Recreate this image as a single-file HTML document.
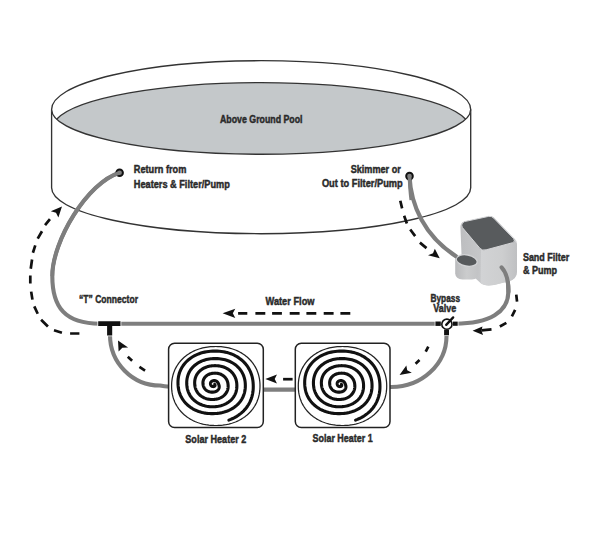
<!DOCTYPE html>
<html><head><meta charset="utf-8"><style>
html,body{margin:0;padding:0;background:#fff;width:600px;height:558px;overflow:hidden;}
svg{display:block;}
</style></head><body>
<svg width="600" height="558" viewBox="0 0 600 558">
<rect width="600" height="558" fill="#fff"/>
<path d="M51.6,109.5 L51.6,187.85 A209.27,45.79 0 0 0 470.7,187.85 L470.7,109.5" fill="#fff" stroke="#333" stroke-width="1.35"/>
<path d="M51.6,109.5 A209.55,48.8 0 0 1 470.7,109.5 A209.55,44.74 0 0 1 51.6,109.5 Z" fill="#fff"/>
<path d="M56.62,119.23 A208.9,45.95 0 0 1 465.68,119.23 A209.55,44.74 0 0 1 56.62,119.23 Z" fill="#c4c8ca"/>
<path d="M51.6,109.5 A209.55,48.8 0 0 1 470.7,109.5 A209.55,44.74 0 0 1 51.6,109.5 Z" fill="none" stroke="#333" stroke-width="1.35"/>
<path d="M56.62,119.23 A208.9,45.95 0 0 1 465.68,119.23" fill="none" stroke="#333" stroke-width="1.35"/>
<path d="M119.6,172.7 C87.3,182.5 52.3,241.1 52.3,276 C52.3,307.6 65.2,323.7 100,323.7" fill="none" stroke="#7e7e7e" stroke-width="4.1"/>
<path d="M100,323.7 L440,323.7" fill="none" stroke="#7e7e7e" stroke-width="4.1"/>
<path d="M110,333 L110,335 A50,50.5 0 0 0 160,385.5 C163,386.2 166,386.6 170,386.8" fill="none" stroke="#7e7e7e" stroke-width="4.1"/>
<path d="M262,389.6 L298,389.6" fill="none" stroke="#7e7e7e" stroke-width="4.1"/>
<path d="M446.5,332 L446.5,336 A55,51 0 0 1 391.5,387 L389,387" fill="none" stroke="#7e7e7e" stroke-width="4.1"/>
<path d="M455,323.7 C490,323.7 508,312 508.4,292 C508.6,280 506,272 501.6,267.3" fill="none" stroke="#7e7e7e" stroke-width="4.1" stroke-linecap="round"/>

<g>
 <defs>
  <linearGradient id="bodyL" x1="0" y1="0" x2="1" y2="0">
   <stop offset="0" stop-color="#bdbec0"/><stop offset="0.5" stop-color="#c9cacc"/><stop offset="1" stop-color="#d3d4d6"/>
  </linearGradient>
  <linearGradient id="bodyF" x1="0" y1="0" x2="1" y2="0">
   <stop offset="0" stop-color="#d2d3d5"/><stop offset="0.6" stop-color="#cdcecf"/><stop offset="1" stop-color="#bfc0c2"/>
  </linearGradient>
  <linearGradient id="pumpB" x1="0" y1="0" x2="1" y2="0">
   <stop offset="0" stop-color="#b9babc"/><stop offset="0.5" stop-color="#cbcccd"/><stop offset="1" stop-color="#c2c3c5"/>
  </linearGradient>
 </defs>
 <path d="M460.4,227 Q460.6,222.8 464,221.8 L489,216.2 Q492,215.6 494,217.6 L514.5,238.6 Q517,240.6 517,244 L517,271.5 Q516.8,279 509,281.3 L494,285 Q484.5,286.6 480.5,283 L462,266 Z" fill="url(#bodyL)"/>
 <path d="M481,250 L514.5,241.5 Q517,242 517,245 L517,271.5 Q516.8,279 509,281.3 L494,285 Q484.5,286.6 480.6,283 Z" fill="url(#bodyF)"/>
 <path d="M464.5,221.6 L488.5,216.4 Q491.5,215.8 493.6,218 L513.6,238.6 Q516,241.4 512.6,242.7 L486.2,249.8 Q482.2,250.9 480,248.4 L462.4,227.6 Q460.4,223.4 464.5,221.6 Z" fill="#585b5d" stroke="#d4d5d7" stroke-width="1"/>
 <path d="M455.2,259 L455.2,273.5 Q455.6,279.2 462.5,279.4 L472,279.4 Q478.4,279.2 478.4,273 L478.4,261 Z" fill="url(#pumpB)"/>
 <ellipse cx="466.7" cy="260.5" rx="10.6" ry="5.6" transform="rotate(10 466.7 260.5)" fill="#575a5c" stroke="#d2d3d5" stroke-width="1.3"/>
</g>
<path d="M409.5,176.2 C410.8,205 424,236 457,257" fill="none" stroke="#7e7e7e" stroke-width="4.1"/>
<path d="M501.6,267.3 C506,272 508.6,280 508.4,292" fill="none" stroke="#7e7e7e" stroke-width="4.1" stroke-linecap="round"/>
<circle cx="119.6" cy="172.7" r="3.3" fill="#7e7e7e" stroke="#111" stroke-width="2"/>
<circle cx="409.5" cy="176.1" r="3.3" fill="#7e7e7e" stroke="#111" stroke-width="2"/>
<path d="M119.6,172.7 C87.3,182.5 52.3,241.1 52.3,276" fill="none" stroke="#7e7e7e" stroke-width="3.69"/>
<path d="M409.5,176.2 C409.9,186 410.5,194 411.3,200" fill="none" stroke="#7e7e7e" stroke-width="3.69"/>
<path d="M98.2,321.3 L120.5,321.3 L120.5,326 L112.2,326 L112.2,335.4 L107.1,335.4 L107.1,326 L98.2,326 Z" fill="#111" stroke="#fff" stroke-width="1.6" paint-order="stroke"/>
<rect x="435.4" y="321.5" width="5.4" height="4.4" fill="#111" stroke="#fff" stroke-width="1.4" paint-order="stroke"/>
<rect x="452.9" y="321.6" width="4.8" height="4.2" fill="#111" stroke="#fff" stroke-width="1.4" paint-order="stroke"/>
<rect x="444.1" y="329.6" width="4.9" height="5.7" fill="#111" stroke="#fff" stroke-width="1.4" paint-order="stroke"/>
<circle cx="446.9" cy="324.2" r="5.1" fill="#fff" stroke="#111" stroke-width="1.6"/>
<path d="M446.2,324.9 L453.2,317.4" stroke="#111" stroke-width="2.3" stroke-linecap="round"/>
<rect x="168.6" y="343.2" width="94.7" height="84.4" rx="6" ry="6" fill="#fff" stroke="#222" stroke-width="1.5"/>
<path d="M260.00,386.00 L259.97,387.67 L259.90,389.20 L259.77,390.69 L259.59,392.15 L259.37,393.57 L259.09,394.98 L258.76,396.36 L258.38,397.71 L257.96,399.05 L257.48,400.36 L256.96,401.64 L256.39,402.91 L255.77,404.14 L255.10,405.36 L254.39,406.54 L253.64,407.70 L252.83,408.83 L251.99,409.93 L251.10,411.00 L250.17,412.03 L249.20,413.04 L248.19,414.01 L247.14,414.95 L246.06,415.85 L244.93,416.72 L243.77,417.55 L242.57,418.34 L241.34,419.10 L240.08,419.81 L238.78,420.49 L237.46,421.12 L236.10,421.72 L234.72,422.27 L233.30,422.78 L231.86,423.25 L230.40,423.67 L228.91,424.05 L227.39,424.39 L225.84,424.69 L224.27,424.93 L222.68,425.14 L221.05,425.30 L219.38,425.41 L217.67,425.48 L215.80,425.50 L213.93,425.48 L212.22,425.41 L210.55,425.30 L208.92,425.14 L207.33,424.93 L205.76,424.69 L204.21,424.39 L202.69,424.05 L201.20,423.67 L199.74,423.25 L198.30,422.78 L196.88,422.27 L195.50,421.72 L194.14,421.12 L192.82,420.49 L191.52,419.81 L190.26,419.10 L189.03,418.34 L187.83,417.55 L186.67,416.72 L185.54,415.85 L184.46,414.95 L183.41,414.01 L182.40,413.04 L181.43,412.03 L180.50,411.00 L179.61,409.93 L178.77,408.83 L177.96,407.70 L177.21,406.54 L176.50,405.36 L175.83,404.14 L175.21,402.91 L174.64,401.64 L174.12,400.36 L173.64,399.05 L173.22,397.71 L172.84,396.36 L172.51,394.98 L172.23,393.57 L172.01,392.15 L171.83,390.69 L171.70,389.20 L171.63,387.67 L171.60,386.00 L171.63,384.33 L171.70,382.80 L171.83,381.31 L172.01,379.85 L172.23,378.43 L172.51,377.02 L172.84,375.64 L173.22,374.29 L173.64,372.95 L174.12,371.64 L174.64,370.36 L175.21,369.09 L175.83,367.86 L176.50,366.64 L177.21,365.46 L177.96,364.30 L178.77,363.17 L179.61,362.07 L180.50,361.00 L181.43,359.97 L182.40,358.96 L183.41,357.99 L184.46,357.05 L185.54,356.15 L186.67,355.28 L187.83,354.45 L189.03,353.66 L190.26,352.90 L191.52,352.19 L192.82,351.51 L194.14,350.88 L195.50,350.28 L196.88,349.73 L198.30,349.22 L199.74,348.75 L201.20,348.33 L202.69,347.95 L204.21,347.61 L205.76,347.31 L207.33,347.07 L208.92,346.86 L210.55,346.70 L212.22,346.59 L213.93,346.52 L215.80,346.50 L217.67,346.52 L219.38,346.59 L221.05,346.70 L222.68,346.86 L224.27,347.07 L225.84,347.31 L227.39,347.61 L228.91,347.95 L230.40,348.33 L231.86,348.75 L233.30,349.22 L234.72,349.73 L236.10,350.28 L237.46,350.88 L238.78,351.51 L240.08,352.19 L241.34,352.90 L242.57,353.66 L243.77,354.45 L244.93,355.28 L246.06,356.15 L247.14,357.05 L248.19,357.99 L249.20,358.96 L250.17,359.97 L251.10,361.00 L251.99,362.07 L252.83,363.17 L253.64,364.30 L254.39,365.46 L255.10,366.64 L255.77,367.86 L256.39,369.09 L256.96,370.36 L257.48,371.64 L257.96,372.95 L258.38,374.29 L258.76,375.64 L259.09,377.02 L259.37,378.43 L259.59,379.85 L259.77,381.31 L259.90,382.80 L259.97,384.33 L260.00,386.00Z" fill="none" stroke="#222" stroke-width="1.25"/>
<path d="M214.71,384.36 L214.77,384.44 L214.83,384.52 L214.88,384.61 L214.93,384.71 L214.97,384.81 L215.00,384.91 L215.03,385.03 L215.04,385.14 L215.04,385.26 L215.03,385.38 L215.01,385.50 L214.97,385.62 L214.93,385.73 L214.86,385.85 L214.79,385.96 L214.70,386.06 L214.60,386.16 L214.49,386.25 L214.36,386.33 L214.22,386.40 L214.07,386.45 L213.90,386.50 L213.72,386.54 L213.55,386.56 L213.39,386.58 L213.22,386.58 L213.06,386.58 L212.90,386.57 L212.74,386.55 L212.59,386.51 L212.43,386.48 L212.28,386.43 L212.14,386.37 L212.00,386.31 L211.86,386.24 L211.73,386.16 L211.61,386.08 L211.49,385.99 L211.38,385.89 L211.28,385.79 L211.18,385.68 L211.09,385.57 L211.00,385.46 L210.92,385.34 L210.85,385.21 L210.79,385.08 L210.73,384.95 L210.68,384.82 L210.63,384.68 L210.59,384.53 L210.56,384.39 L210.53,384.23 L210.51,384.07 L210.49,383.90 L210.48,383.73 L210.48,383.58 L210.49,383.42 L210.51,383.27 L210.53,383.12 L210.56,382.97 L210.60,382.82 L210.65,382.68 L210.71,382.54 L210.78,382.40 L210.85,382.26 L210.93,382.13 L211.02,382.00 L211.12,381.88 L211.23,381.75 L211.34,381.64 L211.47,381.53 L211.60,381.42 L211.73,381.32 L211.88,381.22 L212.03,381.13 L212.19,381.05 L212.35,380.97 L212.53,380.90 L212.70,380.83 L212.89,380.77 L213.08,380.72 L213.28,380.68 L213.49,380.65 L213.70,380.62 L213.95,380.60 L214.18,380.59 L214.40,380.59 L214.61,380.60 L214.82,380.62 L215.02,380.65 L215.22,380.70 L215.42,380.75 L215.61,380.81 L215.79,380.87 L215.97,380.95 L216.14,381.03 L216.31,381.12 L216.47,381.22 L216.62,381.32 L216.77,381.43 L216.92,381.55 L217.06,381.66 L217.19,381.79 L217.32,381.92 L217.44,382.05 L217.56,382.19 L217.68,382.34 L217.79,382.48 L217.90,382.64 L218.01,382.80 L218.11,382.97 L218.21,383.14 L218.31,383.32 L218.40,383.51 L218.49,383.72 L218.58,383.94 L218.67,384.19 L218.75,384.42 L218.83,384.65 L218.91,384.89 L218.99,385.14 L219.05,385.39 L219.11,385.65 L219.16,385.92 L219.19,386.20 L219.21,386.49 L219.22,386.78 L219.21,387.08 L219.17,387.38 L219.12,387.69 L219.05,388.00 L218.95,388.31 L218.82,388.62 L218.67,388.93 L218.50,389.24 L218.30,389.54 L218.07,389.83 L217.81,390.12 L217.53,390.39 L217.22,390.65 L216.88,390.89 L216.51,391.12 L216.12,391.33 L215.70,391.52 L215.25,391.68 L214.78,391.82 L214.27,391.94 L213.69,392.03 L213.15,392.09 L212.63,392.13 L212.11,392.14 L211.60,392.13 L211.10,392.09 L210.60,392.03 L210.10,391.94 L209.62,391.83 L209.15,391.70 L208.69,391.54 L208.24,391.36 L207.80,391.16 L207.38,390.94 L206.97,390.70 L206.58,390.44 L206.21,390.16 L205.85,389.86 L205.52,389.54 L205.20,389.21 L204.90,388.86 L204.62,388.49 L204.37,388.11 L204.13,387.72 L203.91,387.31 L203.72,386.89 L203.55,386.46 L203.39,386.02 L203.26,385.56 L203.16,385.08 L203.07,384.58 L203.00,384.05 L202.96,383.49 L202.95,382.97 L202.95,382.47 L202.99,381.98 L203.05,381.49 L203.14,381.01 L203.25,380.54 L203.39,380.07 L203.56,379.61 L203.75,379.16 L203.97,378.72 L204.22,378.29 L204.49,377.87 L204.79,377.46 L205.11,377.06 L205.46,376.68 L205.84,376.31 L206.24,375.96 L206.67,375.62 L207.12,375.31 L207.59,375.01 L208.08,374.73 L208.60,374.47 L209.14,374.23 L209.70,374.02 L210.28,373.82 L210.88,373.65 L211.50,373.51 L212.14,373.39 L212.81,373.29 L213.52,373.22 L214.30,373.18 L215.02,373.17 L215.71,373.18 L216.38,373.22 L217.04,373.29 L217.69,373.39 L218.33,373.52 L218.95,373.67 L219.56,373.85 L220.16,374.05 L220.74,374.29 L221.30,374.54 L221.85,374.82 L222.38,375.12 L222.88,375.45 L223.37,375.80 L223.84,376.17 L224.29,376.56 L224.71,376.97 L225.11,377.40 L225.49,377.85 L225.85,378.32 L226.18,378.81 L226.49,379.31 L226.77,379.83 L227.02,380.37 L227.25,380.93 L227.46,381.50 L227.64,382.10 L227.79,382.71 L227.91,383.36 L228.01,384.08 L228.08,384.78 L228.12,385.45 L228.14,386.10 L228.13,386.75 L228.09,387.39 L228.02,388.03 L227.91,388.67 L227.77,389.30 L227.60,389.93 L227.39,390.55 L227.15,391.17 L226.87,391.78 L226.55,392.38 L226.19,392.97 L225.79,393.54 L225.36,394.10 L224.88,394.65 L224.37,395.17 L223.81,395.67 L223.22,396.15 L222.59,396.61 L221.92,397.04 L221.21,397.44 L220.47,397.81 L219.69,398.14 L218.88,398.45 L218.04,398.71 L217.16,398.94 L216.24,399.12 L215.28,399.27 L214.26,399.38 L213.15,399.44 L212.14,399.46 L211.16,399.43 L210.20,399.37 L209.26,399.26 L208.34,399.11 L207.43,398.92 L206.55,398.69 L205.69,398.42 L204.85,398.11 L204.03,397.77 L203.25,397.38 L202.49,396.97 L201.75,396.52 L201.05,396.03 L200.39,395.52 L199.75,394.97 L199.15,394.40 L198.58,393.79 L198.05,393.16 L197.56,392.51 L197.10,391.83 L196.69,391.13 L196.31,390.41 L195.97,389.66 L195.66,388.90 L195.40,388.11 L195.18,387.30 L195.00,386.47 L194.85,385.62 L194.75,384.72 L194.69,383.72 L194.66,382.79 L194.69,381.90 L194.75,381.03 L194.86,380.18 L195.01,379.34 L195.20,378.51 L195.44,377.70 L195.72,376.90 L196.05,376.12 L196.43,375.35 L196.84,374.60 L197.30,373.87 L197.81,373.16 L198.36,372.48 L198.95,371.81 L199.59,371.18 L200.26,370.57 L200.98,369.98 L201.74,369.43 L202.53,368.91 L203.37,368.43 L204.24,367.98 L205.15,367.56 L206.09,367.19 L207.06,366.85 L208.07,366.55 L209.11,366.30 L210.18,366.08 L211.29,365.91 L212.45,365.79 L213.69,365.71 L215.00,365.67 L216.19,365.69 L217.34,365.75 L218.46,365.85 L219.57,366.01 L220.65,366.21 L221.70,366.45 L222.74,366.74 L223.75,367.07 L224.73,367.44 L225.68,367.86 L226.60,368.32 L227.49,368.81 L228.35,369.35 L229.17,369.92 L229.96,370.53 L230.71,371.17 L231.42,371.85 L232.10,372.56 L232.73,373.30 L233.32,374.07 L233.86,374.87 L234.36,375.70 L234.82,376.55 L235.24,377.43 L235.60,378.34 L235.93,379.27 L236.20,380.24 L236.43,381.23 L236.61,382.25 L236.75,383.33 L236.83,384.53 L236.87,385.63 L236.86,386.69 L236.81,387.73 L236.70,388.75 L236.54,389.76 L236.34,390.76 L236.07,391.75 L235.76,392.72 L235.39,393.68 L234.97,394.62 L234.49,395.55 L233.96,396.45 L233.37,397.33 L232.73,398.19 L232.03,399.02 L231.27,399.82 L230.47,400.58 L229.60,401.32 L228.69,402.02 L227.72,402.68 L226.71,403.29 L225.64,403.87 L224.53,404.39 L223.36,404.87 L222.16,405.30 L220.91,405.67 L219.62,406.00 L218.28,406.26 L216.90,406.47 L215.45,406.61 L213.86,406.70 L212.29,406.73 L210.82,406.69 L209.40,406.60 L208.02,406.44 L206.66,406.22 L205.34,405.95 L204.05,405.62 L202.79,405.23 L201.56,404.79 L200.38,404.29 L199.23,403.75 L198.12,403.15 L197.06,402.51 L196.04,401.81 L195.07,401.08 L194.15,400.30 L193.28,399.48 L192.46,398.63 L191.69,397.73 L190.98,396.80 L190.32,395.84 L189.71,394.85 L189.16,393.83 L188.66,392.78 L188.23,391.70 L187.84,390.59 L187.52,389.46 L187.25,388.29 L187.03,387.10 L186.88,385.87 L186.77,384.57 L186.73,383.15 L186.74,381.86 L186.82,380.62 L186.95,379.41 L187.14,378.22 L187.40,377.05 L187.71,375.90 L188.09,374.77 L188.53,373.66 L189.02,372.58 L189.58,371.52 L190.21,370.48 L190.89,369.48 L191.63,368.50 L192.43,367.56 L193.29,366.66 L194.21,365.79 L195.18,364.96 L196.21,364.17 L197.29,363.42 L198.43,362.72 L199.62,362.07 L200.86,361.47 L202.14,360.92 L203.47,360.42 L204.85,359.98 L206.27,359.60 L207.74,359.28 L209.25,359.01 L210.81,358.81 L212.45,358.67 L214.26,358.59 L215.98,358.58 L217.61,358.63 L219.19,358.74 L220.74,358.92 L222.26,359.16 L223.74,359.46 L225.19,359.82 L226.61,360.24 L227.99,360.73 L229.34,361.27 L230.64,361.87 L231.90,362.52 L233.11,363.23 L234.28,363.99 L235.40,364.80 L236.47,365.66 L237.48,366.57 L238.44,367.53 L239.35,368.53 L240.19,369.57 L240.97,370.65 L241.70,371.78 L242.36,372.94 L242.96,374.13 L243.49,375.37 L243.95,376.63 L244.35,377.94 L244.69,379.28 L244.95,380.65 L245.15,382.08 L245.28,383.60 L245.34,385.24 L245.33,386.72 L245.25,388.15 L245.11,389.56 L244.89,390.94 L244.60,392.29 L244.24,393.63 L243.80,394.94 L243.29,396.23 L242.71,397.49 L242.06,398.72 L241.34,399.93 L240.54,401.09 L239.68,402.23 L238.74,403.32 L237.73,404.38 L236.66,405.39 L235.52,406.35 L234.31,407.27 L233.04,408.13 L231.71,408.94 L230.31,409.69 L228.86,410.38 L227.36,411.02 L225.79,411.58 L224.18,412.09 L222.51,412.52 L220.79,412.88 L219.02,413.18 L217.19,413.40 L215.26,413.54 L213.12,413.62 L211.15,413.61 L209.26,413.53 L207.43,413.38 L205.64,413.15 L203.88,412.85 L202.17,412.48 L200.49,412.03 L198.86,411.51 L197.27,410.93 L195.73,410.27 L194.23,409.55 L192.79,408.77 L191.41,407.92 L190.08,407.02 L188.81,406.05 L187.60,405.03 L186.46,403.96 L185.38,402.83 L184.37,401.66 L183.43,400.43 L182.56,399.17 L181.76,397.85 L181.04,396.50 L180.39,395.11 L179.81,393.68 L179.32,392.21 L178.90,390.70 L178.56,389.15 L178.29,387.56 L178.11,385.91 L178.00,384.13 L177.98,382.30 L178.03,380.62 L178.16,378.99 L178.38,377.40 L178.67,375.84 L179.05,374.31 L179.51,372.80 L180.05,371.33 L180.67,369.89 L181.37,368.48 L182.15,367.10 L183.02,365.77 L183.96,364.47 L184.98,363.22 L186.08,362.01 L187.26,360.85 L188.50,359.75 L189.82,358.70 L191.21,357.70 L192.67,356.77 L194.20,355.90 L195.79,355.09 L197.44,354.36 L199.15,353.69 L200.91,353.09 L202.74,352.57 L204.61,352.12 L206.55,351.76 L208.54,351.47 L210.60,351.26 L212.76,351.13 L215.14,351.09 L217.31,351.13 L219.39,351.26 L221.41,351.47 L223.38,351.76 L225.31,352.14 L227.19,352.60 L229.02,353.13 L230.80,353.75 L232.52,354.43 L234.19,355.19 L235.81,356.02 L237.36,356.92 L238.85,357.89 L240.28,358.92 L241.64,360.01 L242.93,361.15 L244.15,362.35 L245.29,363.61 L246.37,364.92 L247.37,366.27 L248.29,367.67 L249.13,369.12 L249.90,370.61 L250.59,372.13 L251.20,373.70 L251.74,375.31 L252.19,376.96 L252.56,378.66 L252.86,380.41 L253.07,382.22 L253.21,384.24 L253.27,386.18 L253.25,388.02 L253.15,389.80 L252.97,391.56 L252.71,393.29 L252.36,395.00 L251.93,396.69 L251.41,398.35 L250.80,399.99 L250.10,401.60 L249.31,403.18 L248.42,404.73 L247.45,406.25 L246.38,407.72 L245.21,409.15 L243.96,410.53 L242.61,411.86 L241.18,413.14 L239.65,414.35 L238.03,415.50 L236.33,416.59 L234.54,417.60 L232.67,418.53 L230.72,419.39 L228.87,420.09" fill="none" stroke="#111" stroke-width="3.1" stroke-linecap="round" stroke-linejoin="round"/>
<rect x="295.3" y="343.2" width="94.7" height="84.4" rx="6" ry="6" fill="#fff" stroke="#222" stroke-width="1.5"/>
<path d="M386.70,386.00 L386.67,387.67 L386.60,389.20 L386.47,390.69 L386.29,392.15 L386.07,393.57 L385.79,394.98 L385.46,396.36 L385.08,397.71 L384.66,399.05 L384.18,400.36 L383.66,401.64 L383.09,402.91 L382.47,404.14 L381.80,405.36 L381.09,406.54 L380.34,407.70 L379.53,408.83 L378.69,409.93 L377.80,411.00 L376.87,412.03 L375.90,413.04 L374.89,414.01 L373.84,414.95 L372.76,415.85 L371.63,416.72 L370.47,417.55 L369.27,418.34 L368.04,419.10 L366.78,419.81 L365.48,420.49 L364.16,421.12 L362.80,421.72 L361.42,422.27 L360.00,422.78 L358.56,423.25 L357.10,423.67 L355.61,424.05 L354.09,424.39 L352.54,424.69 L350.97,424.93 L349.38,425.14 L347.75,425.30 L346.08,425.41 L344.37,425.48 L342.50,425.50 L340.63,425.48 L338.92,425.41 L337.25,425.30 L335.62,425.14 L334.03,424.93 L332.46,424.69 L330.91,424.39 L329.39,424.05 L327.90,423.67 L326.44,423.25 L325.00,422.78 L323.58,422.27 L322.20,421.72 L320.84,421.12 L319.52,420.49 L318.22,419.81 L316.96,419.10 L315.73,418.34 L314.53,417.55 L313.37,416.72 L312.24,415.85 L311.16,414.95 L310.11,414.01 L309.10,413.04 L308.13,412.03 L307.20,411.00 L306.31,409.93 L305.47,408.83 L304.66,407.70 L303.91,406.54 L303.20,405.36 L302.53,404.14 L301.91,402.91 L301.34,401.64 L300.82,400.36 L300.34,399.05 L299.92,397.71 L299.54,396.36 L299.21,394.98 L298.93,393.57 L298.71,392.15 L298.53,390.69 L298.40,389.20 L298.33,387.67 L298.30,386.00 L298.33,384.33 L298.40,382.80 L298.53,381.31 L298.71,379.85 L298.93,378.43 L299.21,377.02 L299.54,375.64 L299.92,374.29 L300.34,372.95 L300.82,371.64 L301.34,370.36 L301.91,369.09 L302.53,367.86 L303.20,366.64 L303.91,365.46 L304.66,364.30 L305.47,363.17 L306.31,362.07 L307.20,361.00 L308.13,359.97 L309.10,358.96 L310.11,357.99 L311.16,357.05 L312.24,356.15 L313.37,355.28 L314.53,354.45 L315.73,353.66 L316.96,352.90 L318.22,352.19 L319.52,351.51 L320.84,350.88 L322.20,350.28 L323.58,349.73 L325.00,349.22 L326.44,348.75 L327.90,348.33 L329.39,347.95 L330.91,347.61 L332.46,347.31 L334.03,347.07 L335.62,346.86 L337.25,346.70 L338.92,346.59 L340.63,346.52 L342.50,346.50 L344.37,346.52 L346.08,346.59 L347.75,346.70 L349.38,346.86 L350.97,347.07 L352.54,347.31 L354.09,347.61 L355.61,347.95 L357.10,348.33 L358.56,348.75 L360.00,349.22 L361.42,349.73 L362.80,350.28 L364.16,350.88 L365.48,351.51 L366.78,352.19 L368.04,352.90 L369.27,353.66 L370.47,354.45 L371.63,355.28 L372.76,356.15 L373.84,357.05 L374.89,357.99 L375.90,358.96 L376.87,359.97 L377.80,361.00 L378.69,362.07 L379.53,363.17 L380.34,364.30 L381.09,365.46 L381.80,366.64 L382.47,367.86 L383.09,369.09 L383.66,370.36 L384.18,371.64 L384.66,372.95 L385.08,374.29 L385.46,375.64 L385.79,377.02 L386.07,378.43 L386.29,379.85 L386.47,381.31 L386.60,382.80 L386.67,384.33 L386.70,386.00Z" fill="none" stroke="#222" stroke-width="1.25"/>
<path d="M341.41,384.36 L341.47,384.44 L341.53,384.52 L341.58,384.61 L341.63,384.71 L341.67,384.81 L341.70,384.91 L341.73,385.03 L341.74,385.14 L341.74,385.26 L341.73,385.38 L341.71,385.50 L341.67,385.62 L341.63,385.73 L341.56,385.85 L341.49,385.96 L341.40,386.06 L341.30,386.16 L341.19,386.25 L341.06,386.33 L340.92,386.40 L340.77,386.45 L340.60,386.50 L340.42,386.54 L340.25,386.56 L340.09,386.58 L339.92,386.58 L339.76,386.58 L339.60,386.57 L339.44,386.55 L339.29,386.51 L339.13,386.48 L338.98,386.43 L338.84,386.37 L338.70,386.31 L338.56,386.24 L338.43,386.16 L338.31,386.08 L338.19,385.99 L338.08,385.89 L337.98,385.79 L337.88,385.68 L337.79,385.57 L337.70,385.46 L337.62,385.34 L337.55,385.21 L337.49,385.08 L337.43,384.95 L337.38,384.82 L337.33,384.68 L337.29,384.53 L337.26,384.39 L337.23,384.23 L337.21,384.07 L337.19,383.90 L337.18,383.73 L337.18,383.58 L337.19,383.42 L337.21,383.27 L337.23,383.12 L337.26,382.97 L337.30,382.82 L337.35,382.68 L337.41,382.54 L337.48,382.40 L337.55,382.26 L337.63,382.13 L337.72,382.00 L337.82,381.88 L337.93,381.75 L338.04,381.64 L338.17,381.53 L338.30,381.42 L338.43,381.32 L338.58,381.22 L338.73,381.13 L338.89,381.05 L339.05,380.97 L339.23,380.90 L339.40,380.83 L339.59,380.77 L339.78,380.72 L339.98,380.68 L340.19,380.65 L340.40,380.62 L340.65,380.60 L340.88,380.59 L341.10,380.59 L341.31,380.60 L341.52,380.62 L341.72,380.65 L341.92,380.70 L342.12,380.75 L342.31,380.81 L342.49,380.87 L342.67,380.95 L342.84,381.03 L343.01,381.12 L343.17,381.22 L343.32,381.32 L343.47,381.43 L343.62,381.55 L343.76,381.66 L343.89,381.79 L344.02,381.92 L344.14,382.05 L344.26,382.19 L344.38,382.34 L344.49,382.48 L344.60,382.64 L344.71,382.80 L344.81,382.97 L344.91,383.14 L345.01,383.32 L345.10,383.51 L345.19,383.72 L345.28,383.94 L345.37,384.19 L345.45,384.42 L345.53,384.65 L345.61,384.89 L345.69,385.14 L345.75,385.39 L345.81,385.65 L345.86,385.92 L345.89,386.20 L345.91,386.49 L345.92,386.78 L345.91,387.08 L345.87,387.38 L345.82,387.69 L345.75,388.00 L345.65,388.31 L345.52,388.62 L345.37,388.93 L345.20,389.24 L345.00,389.54 L344.77,389.83 L344.51,390.12 L344.23,390.39 L343.92,390.65 L343.58,390.89 L343.21,391.12 L342.82,391.33 L342.40,391.52 L341.95,391.68 L341.48,391.82 L340.97,391.94 L340.39,392.03 L339.85,392.09 L339.33,392.13 L338.81,392.14 L338.30,392.13 L337.80,392.09 L337.30,392.03 L336.80,391.94 L336.32,391.83 L335.85,391.70 L335.39,391.54 L334.94,391.36 L334.50,391.16 L334.08,390.94 L333.67,390.70 L333.28,390.44 L332.91,390.16 L332.55,389.86 L332.22,389.54 L331.90,389.21 L331.60,388.86 L331.32,388.49 L331.07,388.11 L330.83,387.72 L330.61,387.31 L330.42,386.89 L330.25,386.46 L330.09,386.02 L329.96,385.56 L329.86,385.08 L329.77,384.58 L329.70,384.05 L329.66,383.49 L329.65,382.97 L329.65,382.47 L329.69,381.98 L329.75,381.49 L329.84,381.01 L329.95,380.54 L330.09,380.07 L330.26,379.61 L330.45,379.16 L330.67,378.72 L330.92,378.29 L331.19,377.87 L331.49,377.46 L331.81,377.06 L332.16,376.68 L332.54,376.31 L332.94,375.96 L333.37,375.62 L333.82,375.31 L334.29,375.01 L334.78,374.73 L335.30,374.47 L335.84,374.23 L336.40,374.02 L336.98,373.82 L337.58,373.65 L338.20,373.51 L338.84,373.39 L339.51,373.29 L340.22,373.22 L341.00,373.18 L341.72,373.17 L342.41,373.18 L343.08,373.22 L343.74,373.29 L344.39,373.39 L345.03,373.52 L345.65,373.67 L346.26,373.85 L346.86,374.05 L347.44,374.29 L348.00,374.54 L348.55,374.82 L349.08,375.12 L349.58,375.45 L350.07,375.80 L350.54,376.17 L350.99,376.56 L351.41,376.97 L351.81,377.40 L352.19,377.85 L352.55,378.32 L352.88,378.81 L353.19,379.31 L353.47,379.83 L353.72,380.37 L353.95,380.93 L354.16,381.50 L354.34,382.10 L354.49,382.71 L354.61,383.36 L354.71,384.08 L354.78,384.78 L354.82,385.45 L354.84,386.10 L354.83,386.75 L354.79,387.39 L354.72,388.03 L354.61,388.67 L354.47,389.30 L354.30,389.93 L354.09,390.55 L353.85,391.17 L353.57,391.78 L353.25,392.38 L352.89,392.97 L352.49,393.54 L352.06,394.10 L351.58,394.65 L351.07,395.17 L350.51,395.67 L349.92,396.15 L349.29,396.61 L348.62,397.04 L347.91,397.44 L347.17,397.81 L346.39,398.14 L345.58,398.45 L344.74,398.71 L343.86,398.94 L342.94,399.12 L341.98,399.27 L340.96,399.38 L339.85,399.44 L338.84,399.46 L337.86,399.43 L336.90,399.37 L335.96,399.26 L335.04,399.11 L334.13,398.92 L333.25,398.69 L332.39,398.42 L331.55,398.11 L330.73,397.77 L329.95,397.38 L329.19,396.97 L328.45,396.52 L327.75,396.03 L327.09,395.52 L326.45,394.97 L325.85,394.40 L325.28,393.79 L324.75,393.16 L324.26,392.51 L323.80,391.83 L323.39,391.13 L323.01,390.41 L322.67,389.66 L322.36,388.90 L322.10,388.11 L321.88,387.30 L321.70,386.47 L321.55,385.62 L321.45,384.72 L321.39,383.72 L321.36,382.79 L321.39,381.90 L321.45,381.03 L321.56,380.18 L321.71,379.34 L321.90,378.51 L322.14,377.70 L322.42,376.90 L322.75,376.12 L323.13,375.35 L323.54,374.60 L324.00,373.87 L324.51,373.16 L325.06,372.48 L325.65,371.81 L326.29,371.18 L326.96,370.57 L327.68,369.98 L328.44,369.43 L329.23,368.91 L330.07,368.43 L330.94,367.98 L331.85,367.56 L332.79,367.19 L333.76,366.85 L334.77,366.55 L335.81,366.30 L336.88,366.08 L337.99,365.91 L339.15,365.79 L340.39,365.71 L341.70,365.67 L342.89,365.69 L344.04,365.75 L345.16,365.85 L346.27,366.01 L347.35,366.21 L348.40,366.45 L349.44,366.74 L350.45,367.07 L351.43,367.44 L352.38,367.86 L353.30,368.32 L354.19,368.81 L355.05,369.35 L355.87,369.92 L356.66,370.53 L357.41,371.17 L358.12,371.85 L358.80,372.56 L359.43,373.30 L360.02,374.07 L360.56,374.87 L361.06,375.70 L361.52,376.55 L361.94,377.43 L362.30,378.34 L362.63,379.27 L362.90,380.24 L363.13,381.23 L363.31,382.25 L363.45,383.33 L363.53,384.53 L363.57,385.63 L363.56,386.69 L363.51,387.73 L363.40,388.75 L363.24,389.76 L363.04,390.76 L362.77,391.75 L362.46,392.72 L362.09,393.68 L361.67,394.62 L361.19,395.55 L360.66,396.45 L360.07,397.33 L359.43,398.19 L358.73,399.02 L357.97,399.82 L357.17,400.58 L356.30,401.32 L355.39,402.02 L354.42,402.68 L353.41,403.29 L352.34,403.87 L351.23,404.39 L350.06,404.87 L348.86,405.30 L347.61,405.67 L346.32,406.00 L344.98,406.26 L343.60,406.47 L342.15,406.61 L340.56,406.70 L338.99,406.73 L337.52,406.69 L336.10,406.60 L334.72,406.44 L333.36,406.22 L332.04,405.95 L330.75,405.62 L329.49,405.23 L328.26,404.79 L327.08,404.29 L325.93,403.75 L324.82,403.15 L323.76,402.51 L322.74,401.81 L321.77,401.08 L320.85,400.30 L319.98,399.48 L319.16,398.63 L318.39,397.73 L317.68,396.80 L317.02,395.84 L316.41,394.85 L315.86,393.83 L315.36,392.78 L314.93,391.70 L314.54,390.59 L314.22,389.46 L313.95,388.29 L313.73,387.10 L313.58,385.87 L313.47,384.57 L313.43,383.15 L313.44,381.86 L313.52,380.62 L313.65,379.41 L313.84,378.22 L314.10,377.05 L314.41,375.90 L314.79,374.77 L315.23,373.66 L315.72,372.58 L316.28,371.52 L316.91,370.48 L317.59,369.48 L318.33,368.50 L319.13,367.56 L319.99,366.66 L320.91,365.79 L321.88,364.96 L322.91,364.17 L323.99,363.42 L325.13,362.72 L326.32,362.07 L327.56,361.47 L328.84,360.92 L330.17,360.42 L331.55,359.98 L332.97,359.60 L334.44,359.28 L335.95,359.01 L337.51,358.81 L339.15,358.67 L340.96,358.59 L342.68,358.58 L344.31,358.63 L345.89,358.74 L347.44,358.92 L348.96,359.16 L350.44,359.46 L351.89,359.82 L353.31,360.24 L354.69,360.73 L356.04,361.27 L357.34,361.87 L358.60,362.52 L359.81,363.23 L360.98,363.99 L362.10,364.80 L363.17,365.66 L364.18,366.57 L365.14,367.53 L366.05,368.53 L366.89,369.57 L367.67,370.65 L368.40,371.78 L369.06,372.94 L369.66,374.13 L370.19,375.37 L370.65,376.63 L371.05,377.94 L371.39,379.28 L371.65,380.65 L371.85,382.08 L371.98,383.60 L372.04,385.24 L372.03,386.72 L371.95,388.15 L371.81,389.56 L371.59,390.94 L371.30,392.29 L370.94,393.63 L370.50,394.94 L369.99,396.23 L369.41,397.49 L368.76,398.72 L368.04,399.93 L367.24,401.09 L366.38,402.23 L365.44,403.32 L364.43,404.38 L363.36,405.39 L362.22,406.35 L361.01,407.27 L359.74,408.13 L358.41,408.94 L357.01,409.69 L355.56,410.38 L354.06,411.02 L352.49,411.58 L350.88,412.09 L349.21,412.52 L347.49,412.88 L345.72,413.18 L343.89,413.40 L341.96,413.54 L339.82,413.62 L337.85,413.61 L335.96,413.53 L334.13,413.38 L332.34,413.15 L330.58,412.85 L328.87,412.48 L327.19,412.03 L325.56,411.51 L323.97,410.93 L322.43,410.27 L320.93,409.55 L319.49,408.77 L318.11,407.92 L316.78,407.02 L315.51,406.05 L314.30,405.03 L313.16,403.96 L312.08,402.83 L311.07,401.66 L310.13,400.43 L309.26,399.17 L308.46,397.85 L307.74,396.50 L307.09,395.11 L306.51,393.68 L306.02,392.21 L305.60,390.70 L305.26,389.15 L304.99,387.56 L304.81,385.91 L304.70,384.13 L304.68,382.30 L304.73,380.62 L304.86,378.99 L305.08,377.40 L305.37,375.84 L305.75,374.31 L306.21,372.80 L306.75,371.33 L307.37,369.89 L308.07,368.48 L308.85,367.10 L309.72,365.77 L310.66,364.47 L311.68,363.22 L312.78,362.01 L313.96,360.85 L315.20,359.75 L316.52,358.70 L317.91,357.70 L319.37,356.77 L320.90,355.90 L322.49,355.09 L324.14,354.36 L325.85,353.69 L327.61,353.09 L329.44,352.57 L331.31,352.12 L333.25,351.76 L335.24,351.47 L337.30,351.26 L339.46,351.13 L341.84,351.09 L344.01,351.13 L346.09,351.26 L348.11,351.47 L350.08,351.76 L352.01,352.14 L353.89,352.60 L355.72,353.13 L357.50,353.75 L359.22,354.43 L360.89,355.19 L362.51,356.02 L364.06,356.92 L365.55,357.89 L366.98,358.92 L368.34,360.01 L369.63,361.15 L370.85,362.35 L371.99,363.61 L373.07,364.92 L374.07,366.27 L374.99,367.67 L375.83,369.12 L376.60,370.61 L377.29,372.13 L377.90,373.70 L378.44,375.31 L378.89,376.96 L379.26,378.66 L379.56,380.41 L379.77,382.22 L379.91,384.24 L379.97,386.18 L379.95,388.02 L379.85,389.80 L379.67,391.56 L379.41,393.29 L379.06,395.00 L378.63,396.69 L378.11,398.35 L377.50,399.99 L376.80,401.60 L376.01,403.18 L375.12,404.73 L374.15,406.25 L373.08,407.72 L371.91,409.15 L370.66,410.53 L369.31,411.86 L367.88,413.14 L366.35,414.35 L364.73,415.50 L363.03,416.59 L361.24,417.60 L359.37,418.53 L357.42,419.39 L355.57,420.09" fill="none" stroke="#111" stroke-width="3.1" stroke-linecap="round" stroke-linejoin="round"/>
<path d="M49.95,219.11 L45.05,225.19 M42.00,231.25 L37.70,238.65 M35.28,245.38 L32.92,252.72 M32.05,259.50 L30.75,268.80 M30.30,275.50 L30.30,283.40 M31.16,291.60 L32.44,299.60 M34.27,306.36 L37.73,313.74 M41.08,319.68 L47.92,326.52 M53.98,330.32 L61.92,332.78 M70.10,333.50 L79.40,333.50" stroke="#111" stroke-width="2.7" fill="none"/>
<path d="M61.97,206.41 L50.80,211.17 L56.00,212.85 L58.39,217.59 Z" fill="#111"/>
<path d="M127.79,356.67 L132.11,360.63 M139.44,366.92 L145.06,370.58" stroke="#111" stroke-width="2.7" fill="none"/>
<path d="M118.00,340.46 L118.60,351.54 L122.34,347.81 L128.09,347.56 Z" fill="#111"/>
<path d="M238.10,313.30 L247.30,313.30 M255.40,313.30 L265.30,313.30 M272.10,313.30 L281.90,313.30 M289.70,313.30 L299.60,313.30 M306.40,313.30 L316.30,313.30 M323.70,313.30 L333.60,313.30 M340.40,313.30 L350.30,313.30" stroke="#111" stroke-width="2.7" fill="none"/>
<path d="M222.60,313.30 L235.27,308.71 L232.84,313.30 L235.27,317.89 Z" fill="#111"/>
<path d="M283.10,379.20 L292.60,379.20" stroke="#111" stroke-width="2.7" fill="none"/>
<path d="M265.30,379.00 L276.96,374.50 L274.72,379.00 L276.96,383.50 Z" fill="#111"/>
<path d="M428.31,346.65 L425.69,351.55 M419.51,360.07 L415.59,363.73" stroke="#111" stroke-width="2.7" fill="none"/>
<path d="M399.56,375.11 L406.33,365.60 L407.24,370.35 L411.79,372.80 Z" fill="#111"/>
<path d="M516.25,294.70 L517.05,301.60 M515.12,309.96 L511.88,316.44 M506.35,322.89 L499.85,326.51 M491.50,329.44 L481.40,330.46" stroke="#111" stroke-width="2.7" fill="none"/>
<path d="M472.60,330.80 L482.43,326.47 L481.55,330.80 L483.06,335.10 Z" fill="#111"/>
<path d="M400.29,200.79 L402.11,208.41 M404.13,215.78 L406.87,223.42 M410.24,229.52 L415.16,236.08 M419.91,242.66 L426.49,248.14" stroke="#111" stroke-width="2.7" fill="none"/>
<path d="M439.72,258.24 L428.01,255.27 L433.00,253.24 L434.85,248.80 Z" fill="#111"/>
<g font-family="Liberation Sans, sans-serif" font-weight="bold" fill="#2a2a2a" stroke="#2a2a2a" stroke-width="0.45">
<text x="220" y="123" font-size="10.5" textLength="82.5" lengthAdjust="spacingAndGlyphs" text-anchor="start">Above Ground Pool</text>
<text x="133.8" y="173" font-size="10.5" textLength="52.5" lengthAdjust="spacingAndGlyphs" text-anchor="start">Return from</text>
<text x="133.8" y="187.5" font-size="10.5" textLength="96" lengthAdjust="spacingAndGlyphs" text-anchor="start">Heaters &amp; Filter/Pump</text>
<text x="350.7" y="172.8" font-size="10.5" textLength="50.1" lengthAdjust="spacingAndGlyphs" text-anchor="start">Skimmer or</text>
<text x="321.9" y="186.6" font-size="10.5" textLength="80.8" lengthAdjust="spacingAndGlyphs" text-anchor="start">Out to Filter/Pump</text>
<text x="522.9" y="260.8" font-size="10.5" textLength="46.4" lengthAdjust="spacingAndGlyphs" text-anchor="start">Sand Filter</text>
<text x="522.9" y="274.4" font-size="10.5" textLength="34.1" lengthAdjust="spacingAndGlyphs" text-anchor="start">&amp; Pump</text>
<text x="79" y="302.8" font-size="10.5" textLength="59" lengthAdjust="spacingAndGlyphs" text-anchor="start">&#8220;T&#8221; Connector</text>
<text x="265.5" y="304.9" font-size="10.5" textLength="49" lengthAdjust="spacingAndGlyphs" text-anchor="start">Water Flow</text>
<text x="430.5" y="301.5" font-size="10.5" textLength="29.5" lengthAdjust="spacingAndGlyphs" text-anchor="start">Bypass</text>
<text x="433.3" y="312.3" font-size="10.5" textLength="23" lengthAdjust="spacingAndGlyphs" text-anchor="start">Valve</text>
<text x="185.3" y="443" font-size="11" textLength="61" lengthAdjust="spacingAndGlyphs" text-anchor="start">Solar Heater 2</text>
<text x="312.5" y="442.3" font-size="11" textLength="60.2" lengthAdjust="spacingAndGlyphs" text-anchor="start">Solar Heater 1</text>
</g>
</svg>
</body></html>
